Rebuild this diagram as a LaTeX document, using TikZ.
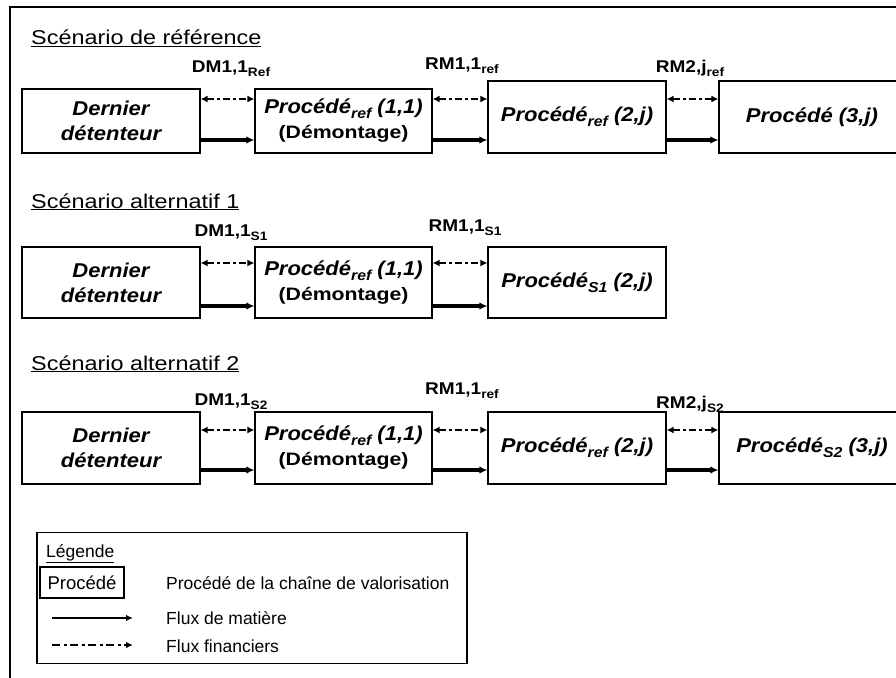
\documentclass[tikz,border=0pt]{standalone}
\usepackage{fontspec}
\usepackage{graphicx}
\setmainfont{Liberation Sans}
\usetikzlibrary{arrows.meta}
\newcommand\mysub[1]{\raisebox{-0.45ex}{\scalebox{0.72}{#1}}}
\newcommand\wide[1]{\scalebox{1.17}[1]{#1}}
\newcommand\bxl[1]{\scalebox{1.1}[1]{#1}}
\newcommand\lbl[1]{\scalebox{1.12}[1]{#1}}
\newcommand\demo{\scalebox{1.18}[1]{\upshape\fontsize{18}{25}\selectfont(Démontage)}}
\tikzset{
  procbox/.style={draw, line width=1.2pt, align=center, inner sep=0pt,
    font=\fontsize{20}{25}\selectfont\bfseries\itshape},
  scentitle/.style={anchor=base west, inner sep=0pt, font=\fontsize{20}{22}\selectfont},
  flowlab/.style={inner sep=0pt, font=\fontsize{17}{18}\selectfont\bfseries},
  legtext/.style={anchor=west, inner sep=0pt, font=\fontsize{17.5}{20}\selectfont},
  matflow/.style={line width=3.2pt, -{Latex[length=8pt,width=7.5pt]}},
  finflow/.style={line width=2.8pt, dash pattern=on 7pt off 3pt on 3pt off 3pt,
    {Latex[length=7pt,width=7pt]}-{Latex[length=7pt,width=7pt]}},
  legmat/.style={line width=2.6pt, -{Latex[length=7pt,width=6.5pt]}},
  legfin/.style={line width=2.6pt, dash pattern=on 8pt off 3.5pt on 3pt off 3.5pt,
    -{Latex[length=7pt,width=6.5pt]}},
}
\begin{document}
\begin{tikzpicture}[x=1pt,y=-1pt]
\useasboundingbox (0,0) rectangle (896,677);
\clip (0,0) rectangle (896,677);
\fill[white] (0,0) rectangle (896,677);
% outer frame
\draw[line width=1.2pt] (10,680) -- (10,7) -- (900,7);

% ---------- Row 1 ----------
\node[scentitle] (t1) at (31,45) {\wide{\underline{Scénario de référence}}};
\node[procbox, minimum width=178pt, minimum height=64pt] (a1) at (111,121) {\bxl{Dernier}\\\bxl{détenteur}};
\node[procbox, minimum width=177pt, minimum height=64pt] (a2) at (343.5,121)
  {\bxl{Procédé\mysub{ref} (1,1)}\\\demo};
\node[procbox, minimum width=178pt, minimum height=72pt] (a3) at (577,117) {\bxl{Procédé\mysub{ref} (2,j)}};
\node[procbox, minimum width=186pt, minimum height=72pt] (a4) at (812,117) {\bxl{Procédé (3,j)}};
\node[flowlab] (la1) at (231,69) {\lbl{DM1,1\mysub{Ref}}};
\node[flowlab] (la2) at (462,66) {\lbl{RM1,1\mysub{ref}}};
\node[flowlab] (la3) at (690,68) {\lbl{RM2,j\mysub{ref}}};
\draw[finflow] ([yshift=22pt]a1.east) -- ([yshift=22pt]a2.west);
\draw[finflow] ([yshift=22pt]a2.east) -- ([yshift=18pt]a3.west);
\draw[finflow] ([yshift=18pt]a3.east) -- ([yshift=18pt]a4.west);
\draw[matflow] ([yshift=-19pt]a1.east) -- ([yshift=-19pt]a2.west);
\draw[matflow] ([yshift=-19pt]a2.east) -- ([yshift=-23pt]a3.west);
\draw[matflow] ([yshift=-23pt]a3.east) -- ([yshift=-23pt]a4.west);

% ---------- Row 2 ----------
\node[scentitle] (t2) at (31,208) {\wide{\underline{Scénario alternatif 1}}};
\node[procbox, minimum width=178pt, minimum height=71pt] (b1) at (111,282.5) {\bxl{Dernier}\\\bxl{détenteur}};
\node[procbox, minimum width=177pt, minimum height=71pt] (b2) at (343.5,282.5)
  {\bxl{Procédé\mysub{ref} (1,1)}\\\demo};
\node[procbox, minimum width=178pt, minimum height=71pt] (b3) at (577,282.5) {\bxl{Procédé\mysub{S1} (2,j)}};
\node[flowlab] (lb1) at (231,233) {\lbl{DM1,1\mysub{S1}}};
\node[flowlab] (lb2) at (465,228) {\lbl{RM1,1\mysub{S1}}};
\draw[finflow] ([yshift=19.5pt]b1.east) -- ([yshift=19.5pt]b2.west);
\draw[finflow] ([yshift=19.5pt]b2.east) -- ([yshift=19.5pt]b3.west);
\draw[matflow] ([yshift=-23.5pt]b1.east) -- ([yshift=-23.5pt]b2.west);
\draw[matflow] ([yshift=-23.5pt]b2.east) -- ([yshift=-23.5pt]b3.west);

% ---------- Row 3 ----------
\node[scentitle] (t3) at (31,370) {\wide{\underline{Scénario alternatif 2}}};
\node[procbox, minimum width=178pt, minimum height=72pt] (c1) at (111,448) {\bxl{Dernier}\\\bxl{détenteur}};
\node[procbox, minimum width=177pt, minimum height=72pt] (c2) at (343.5,448)
  {\bxl{Procédé\mysub{ref} (1,1)}\\\demo};
\node[procbox, minimum width=178pt, minimum height=72pt] (c3) at (577,448) {\bxl{Procédé\mysub{ref} (2,j)}};
\node[procbox, minimum width=186pt, minimum height=72pt] (c4) at (812,448) {\bxl{Procédé\mysub{S2} (3,j)}};
\node[flowlab] (lc1) at (231,402) {\lbl{DM1,1\mysub{S2}}};
\node[flowlab] (lc2) at (462,391) {\lbl{RM1,1\mysub{ref}}};
\node[flowlab] (lc3) at (690,404) {\lbl{RM2,j\mysub{S2}}};
\draw[finflow] ([yshift=18pt]c1.east) -- ([yshift=18pt]c2.west);
\draw[finflow] ([yshift=18pt]c2.east) -- ([yshift=18pt]c3.west);
\draw[finflow] ([yshift=18pt]c3.east) -- ([yshift=18pt]c4.west);
\draw[matflow] ([yshift=-22pt]c1.east) -- ([yshift=-22pt]c2.west);
\draw[matflow] ([yshift=-22pt]c2.east) -- ([yshift=-22pt]c3.west);
\draw[matflow] ([yshift=-22pt]c3.east) -- ([yshift=-22pt]c4.west);

% ---------- Legend ----------
\node[draw, line width=1.2pt, minimum width=430pt, minimum height=131pt, inner sep=0pt] (leg) at (252,598) {};
\node[anchor=base west, inner sep=0pt, font=\fontsize{17.5}{18}\selectfont] (legt) at (46,557) {\underline{Légende}};
\node[draw, line width=1.2pt, minimum width=84pt, minimum height=31pt, inner sep=0pt,
  font=\fontsize{18.5}{22}\selectfont] (legbox) at (82,582.5) {Procédé};
\node[legtext] (legbt) at (166,583) {Procédé de la chaîne de valorisation};
\coordinate (ma) at (52,618);
\coordinate (mb) at (133,618);
\draw[legmat] (ma) -- (mb);
\node[legtext] (legmt) at (166,618) {Flux de matière};
\coordinate (fa) at (52,645);
\coordinate (fb) at (133,645);
\draw[legfin] (fa) -- (fb);
\node[legtext] (legft) at (166,646) {Flux financiers};
\end{tikzpicture}
\end{document}
